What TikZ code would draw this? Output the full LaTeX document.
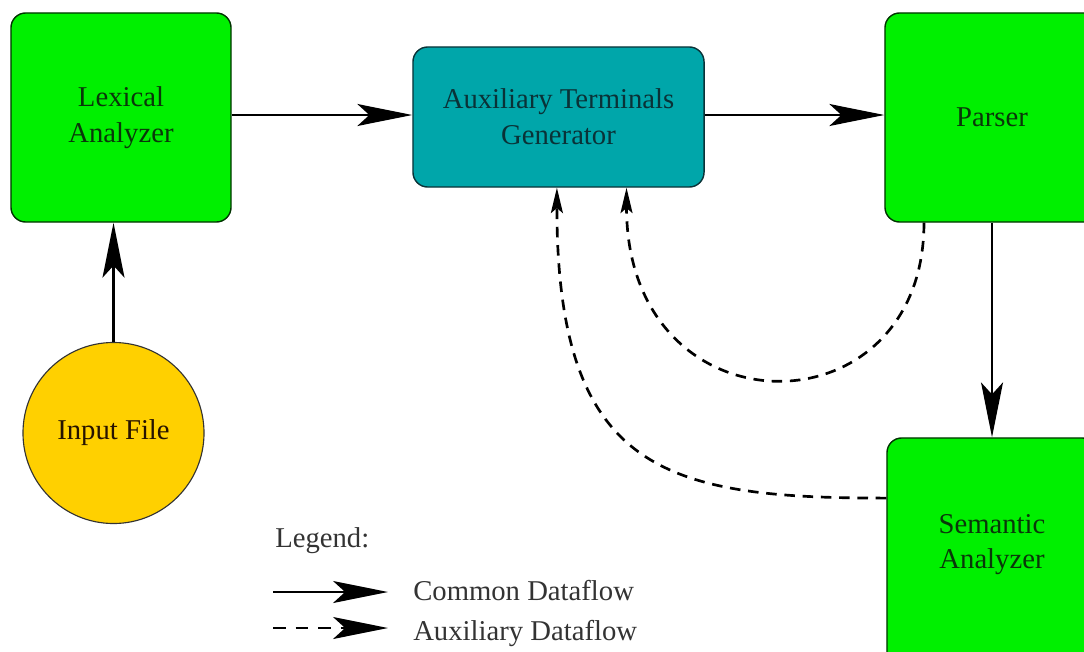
\documentclass[tikz,border=0pt]{standalone}
\usepackage{fontspec}
\setmainfont{Liberation Serif}
\usepackage{xcolor}
\usetikzlibrary{arrows.meta}
\definecolor{boxgreen}{RGB}{0,240,0}
\definecolor{boxteal}{RGB}{0,166,170}
\definecolor{filegold}{RGB}{255,208,0}
\definecolor{dgreen}{RGB}{10,55,10}
\definecolor{dteal}{RGB}{10,50,55}
\colorlet{legendgray}{black!80}
\newcommand\bigfont{\fontsize{20.4}{25.5}\selectfont}
\tikzstyle{module}=[draw=green!20!black, line width=1pt, rounded corners=10.5pt, fill=boxgreen, text=dgreen, align=center, font=\bigfont]
\tikzstyle{genbox}=[module, fill=boxteal, draw=dteal, text=dteal]
\tikzstyle{filenode}=[circle, draw=black!80, line width=.8pt, fill=filegold, text=black!85!orange, font=\bigfont, minimum size=4.525cm]
\tikzstyle{bighead}=[>/.tip={Stealth[length=39pt,width=15.6pt,inset=8.5pt]}]
\tikzstyle{smallhead}=[>/.tip={Stealth[length=18pt,width=8.5pt,inset=3.5pt]}]
\tikzstyle{flow}=[line width=1.9pt, bighead, ->]
\tikzstyle{auxflow}=[line width=1.9pt, smallhead, ->, dash pattern=on 7.5pt off 5.5pt]
\tikzstyle{legendtext}=[text=legendgray, font=\bigfont, inner sep=0pt]

\begin{document}
\begin{tikzpicture}[x=0.025cm, y=-0.025cm]
	\useasboundingbox (0,0) rectangle (1084,651);
	\clip (0,0) rectangle (1084,651);
	% modules
	\node[module, minimum width=5.5cm, minimum height=5.225cm] (lex) at (121,117.5) {Lexical\\Analyzer};
	\node[genbox, minimum width=7.275cm, minimum height=3.5cm] (atg) at (558.5,117) {Auxiliary Terminals\\Generator};
	\node[module, minimum width=5.35cm, minimum height=5.225cm] (parser) at (992,117.5) {Parser};
	\node[module, minimum width=5.25cm, minimum height=5.725cm, text depth=.55cm] (sem) at (992,552.5) {Semantic\\Analyzer};
	\node[filenode] (input) at (113.5,433) {Input File};
	% common dataflow
	\draw[flow] (input.north) -- (input.north |- lex.south);
	\draw[flow] (lex.east |- 0,115) -- (atg.west |- 0,115);
	\draw[flow] (atg.east |- 0,115) -- (parser.west |- 0,115);
	\draw[flow] (parser.south) -- (sem.north);
	% auxiliary dataflow
	\draw[auxflow] ([xshift=-1.7cm]parser.south) .. controls +(0,214) and +(0,249) .. ([xshift=1.7cm]atg.south);
	\draw[auxflow] ([yshift=1.36cm]sem.west) .. controls +(-219,0) and +(0,286) .. ([xshift=-.04cm]atg.south);
	% legend
	\node[legendtext, anchor=base west] (legend) at (275,547) {Legend:};
	\coordinate (cfrom) at (273,592);
	\coordinate (cto) at (388,592);
	\coordinate (afrom) at (273,628);
	\coordinate (ato) at (388,628);
	\node[legendtext, anchor=base west] (common) at (413,600) {Common Dataflow};
	\node[legendtext, anchor=base west] (aux) at (413,640) {Auxiliary Dataflow};
	\draw[flow] (cfrom) -- (cto);
	\draw[flow, dash pattern=on 9pt off 7pt] (afrom) -- (ato);
\end{tikzpicture}
\end{document}
